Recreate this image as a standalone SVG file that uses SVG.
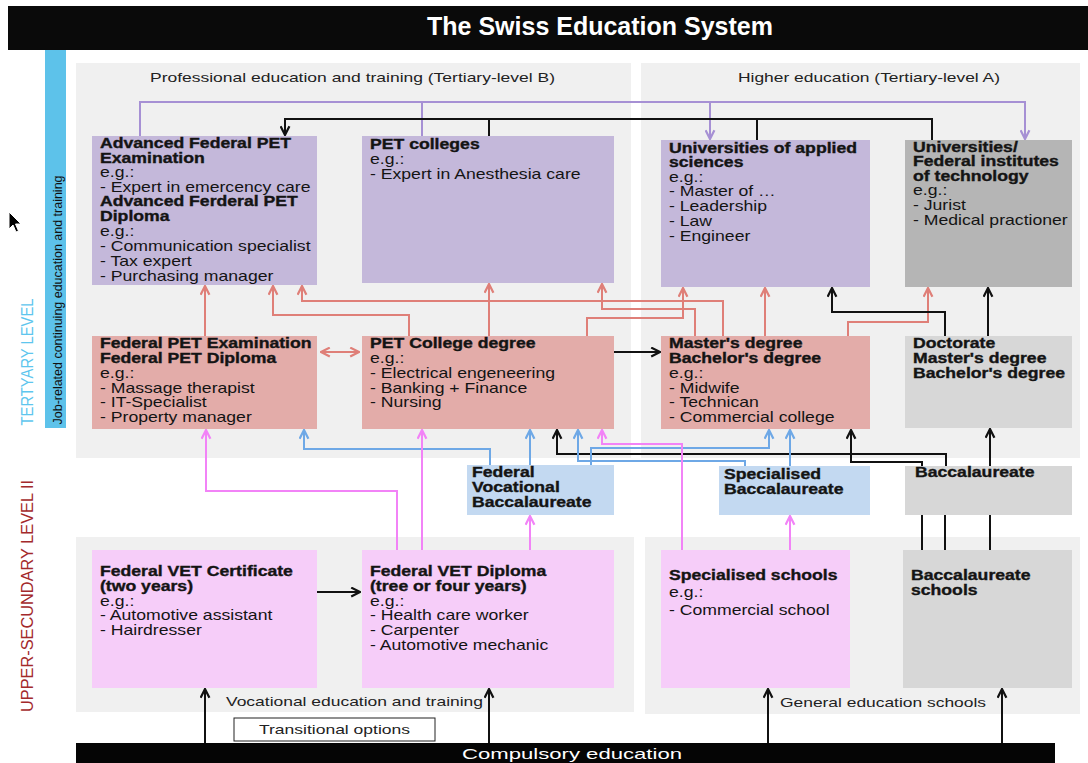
<svg xmlns="http://www.w3.org/2000/svg" width="1088" height="763" viewBox="0 0 1088 763">
<style>
.t{font-family:"Liberation Sans",Arial,sans-serif;font-size:14px;fill:#141414}
.b{font-weight:bold;stroke:#141414;stroke-width:0.35}
.lbl{font-family:"Liberation Sans",Arial,sans-serif;font-size:13px;fill:#222}
.panel{fill:#f0f0f0}
.pu{fill:#c4b8da}.gd{fill:#b5b5b5}.sa{fill:#e3aca9}.gl{fill:#d7d7d7}.bl{fill:#c3d9f1}.pk{fill:#f6cdf9}
.c{fill:none;stroke-width:2}
.cpu{stroke:#a690d4}.csa{stroke:#df7f78}.cbl{stroke:#6ea8e6}.cpk{stroke:#f283f7}.cbk{stroke:#111}
</style>
<defs>
<marker id="mpu" viewBox="0 0 10 10" refX="9" refY="5" markerWidth="11" markerHeight="11" markerUnits="userSpaceOnUse" orient="auto"><path d="M1,1 L9,5 L1,9" fill="none" stroke="#a690d4" stroke-width="2"/></marker>
<marker id="msa" viewBox="0 0 10 10" refX="9" refY="5" markerWidth="11" markerHeight="11" markerUnits="userSpaceOnUse" orient="auto-start-reverse"><path d="M1,1 L9,5 L1,9" fill="none" stroke="#df7f78" stroke-width="2"/></marker>
<marker id="mbl" viewBox="0 0 10 10" refX="9" refY="5" markerWidth="11" markerHeight="11" markerUnits="userSpaceOnUse" orient="auto"><path d="M1,1 L9,5 L1,9" fill="none" stroke="#6ea8e6" stroke-width="2"/></marker>
<marker id="mpk" viewBox="0 0 10 10" refX="9" refY="5" markerWidth="11" markerHeight="11" markerUnits="userSpaceOnUse" orient="auto"><path d="M1,1 L9,5 L1,9" fill="none" stroke="#f283f7" stroke-width="2"/></marker>
<marker id="mbk" viewBox="0 0 10 10" refX="9" refY="5" markerWidth="11" markerHeight="11" markerUnits="userSpaceOnUse" orient="auto"><path d="M1,1 L9,5 L1,9" fill="none" stroke="#111" stroke-width="2"/></marker>
</defs>
<rect width="1088" height="763" fill="#fff"/>
<!-- title -->
<g id="title">
<rect x="8" y="6" width="1080" height="44" fill="#0a0a0a"/>
<text x="600" y="35" text-anchor="middle" font-family="Liberation Sans,Arial,sans-serif" font-size="25" font-weight="bold" fill="#fff">The Swiss Education System</text>
</g>
<!-- side labels -->
<g id="side">
<rect x="45" y="50" width="21" height="378" fill="#5dc2ea"/>
<text transform="translate(61.5 300) rotate(-90)" text-anchor="middle" font-family="Liberation Sans,Arial,sans-serif" font-size="12" fill="#111" textLength="249" lengthAdjust="spacingAndGlyphs">Job-related continuing education and training</text>
<text transform="translate(33 362) rotate(-90)" text-anchor="middle" font-family="Liberation Sans,Arial,sans-serif" font-size="16" fill="#5ec6ee" textLength="127" lengthAdjust="spacingAndGlyphs">TERTYARY LEVEL</text>
<text transform="translate(33 596) rotate(-90)" text-anchor="middle" font-family="Liberation Sans,Arial,sans-serif" font-size="16" fill="#a3292b" textLength="232" lengthAdjust="spacingAndGlyphs">UPPER-SECUNDARY LEVEL II</text>
<path d="M9,212 L9,229 L13,225 L16,232 L18.5,231 L15.5,224 L21,224 Z" fill="#000" stroke="#fff" stroke-width="1"/>
</g>
<!-- panels -->
<g id="panels">
<rect class="panel" x="76" y="63" width="555" height="395"/>
<rect class="panel" x="641" y="63" width="439" height="395"/>
<rect class="panel" x="76" y="537" width="558" height="175"/>
<rect class="panel" x="645" y="537" width="435" height="177"/>
<text class="lbl" x="150" y="82" textLength="405" lengthAdjust="spacingAndGlyphs">Professional education and training (Tertiary-level B)</text>
<text class="lbl" x="738" y="82" textLength="262" lengthAdjust="spacingAndGlyphs">Higher education (Tertiary-level A)</text>
<text class="lbl" x="226" y="706" textLength="257" lengthAdjust="spacingAndGlyphs">Vocational education and training</text>
<text class="lbl" x="780" y="707" textLength="206" lengthAdjust="spacingAndGlyphs">General education schools</text>
</g>
<!-- nodes -->
<g id="n1"><rect class="pu" x="92" y="136" width="225" height="149"/>
<g transform="translate(100 0) scale(1.26 1)">
<text class="t b" y="148">Advanced Federal PET</text>
<text class="t b" y="163">Examination</text>
<text class="t" y="177">e.g.:</text>
<text class="t" y="192">- Expert in emercency care</text>
<text class="t b" y="206">Advanced Ferderal PET</text>
<text class="t b" y="221">Diploma</text>
<text class="t" y="236">e.g.:</text>
<text class="t" y="251">- Communication specialist</text>
<text class="t" y="266">- Tax expert</text>
<text class="t" y="281">- Purchasing manager</text>
</g></g>
<g id="n2"><rect class="pu" x="362" y="136" width="252" height="147"/>
<g transform="translate(370 0) scale(1.26 1)">
<text class="t b" y="149">PET colleges</text>
<text class="t" y="164">e.g.:</text>
<text class="t" y="179">- Expert in Anesthesia care</text>
</g></g>
<g id="n3"><rect class="pu" x="661" y="140" width="209" height="147"/>
<g transform="translate(669 0) scale(1.26 1)">
<text class="t b" y="153">Universities of applied</text>
<text class="t b" y="167">sciences</text>
<text class="t" y="182">e.g.:</text>
<text class="t" y="196">- Master of …</text>
<text class="t" y="211">- Leadership</text>
<text class="t" y="226">- Law</text>
<text class="t" y="241">- Engineer</text>
</g></g>
<g id="n4"><rect class="gd" x="905" y="140" width="167" height="147"/>
<g transform="translate(913 0) scale(1.26 1)">
<text class="t b" y="152">Universities/</text>
<text class="t b" y="166">Federal institutes</text>
<text class="t b" y="181">of technology</text>
<text class="t" y="195">e.g.:</text>
<text class="t" y="210">- Jurist</text>
<text class="t" y="225">- Medical practioner</text>
</g></g>
<g id="n5"><rect class="sa" x="92" y="336" width="225" height="93"/>
<g transform="translate(100 0) scale(1.26 1)">
<text class="t b" y="348">Federal PET Examination</text>
<text class="t b" y="363">Federal PET Diploma</text>
<text class="t" y="378">e.g.:</text>
<text class="t" y="393">- Massage therapist</text>
<text class="t" y="407">- IT-Specialist</text>
<text class="t" y="422">- Property manager</text>
</g></g>
<g id="n6"><rect class="sa" x="362" y="336" width="252" height="93"/>
<g transform="translate(370 0) scale(1.26 1)">
<text class="t b" y="348">PET College degree</text>
<text class="t" y="363">e.g.:</text>
<text class="t" y="378">- Electrical engeneering</text>
<text class="t" y="393">- Banking + Finance</text>
<text class="t" y="407">- Nursing</text>
</g></g>
<g id="n7"><rect class="sa" x="661" y="336" width="209" height="93"/>
<g transform="translate(669 0) scale(1.26 1)">
<text class="t b" y="348">Master's degree</text>
<text class="t b" y="363">Bachelor's degree</text>
<text class="t" y="378">e.g.:</text>
<text class="t" y="393">- Midwife</text>
<text class="t" y="407">- Technican</text>
<text class="t" y="422">- Commercial college</text>
</g></g>
<g id="n8"><rect class="gl" x="905" y="336" width="167" height="92"/>
<g transform="translate(913 0) scale(1.26 1)">
<text class="t b" y="348">Doctorate</text>
<text class="t b" y="363">Master's degree</text>
<text class="t b" y="378">Bachelor's degree</text>
</g></g>
<g id="n9"><rect class="bl" x="467" y="465" width="147" height="50"/>
<g transform="translate(472 0) scale(1.26 1)">
<text class="t b" y="477">Federal</text>
<text class="t b" y="492">Vocational</text>
<text class="t b" y="507">Baccalaureate</text>
</g></g>
<g id="n10"><rect class="bl" x="719" y="466" width="151" height="49"/>
<g transform="translate(724 0) scale(1.26 1)">
<text class="t b" y="479">Specialised</text>
<text class="t b" y="494">Baccalaureate</text>
</g></g>
<g id="n11"><rect class="gl" x="905" y="466" width="167" height="49"/>
<g transform="translate(915 0) scale(1.26 1)">
<text class="t b" y="477">Baccalaureate</text>
</g></g>
<g id="n12"><rect class="pk" x="92" y="550" width="225" height="138"/>
<g transform="translate(100 0) scale(1.26 1)">
<text class="t b" y="576">Federal VET Certificate</text>
<text class="t b" y="591">(two years)</text>
<text class="t" y="606">e.g.:</text>
<text class="t" y="620">- Automotive assistant</text>
<text class="t" y="635">- Hairdresser</text>
</g></g>
<g id="n13"><rect class="pk" x="362" y="550" width="252" height="138"/>
<g transform="translate(370 0) scale(1.26 1)">
<text class="t b" y="576">Federal VET Diploma</text>
<text class="t b" y="591">(tree or four years)</text>
<text class="t" y="606">e.g.:</text>
<text class="t" y="620">- Health care worker</text>
<text class="t" y="635">- Carpenter</text>
<text class="t" y="650">- Automotive mechanic</text>
</g></g>
<g id="n14"><rect class="pk" x="661" y="550" width="189" height="138"/>
<g transform="translate(669 0) scale(1.26 1)">
<text class="t b" y="580">Specialised schools</text>
<text class="t" y="597">e.g.:</text>
<text class="t" y="615">- Commercial school</text>
</g></g>
<g id="n15"><rect class="gl" x="903" y="550" width="169" height="138"/>
<g transform="translate(911 0) scale(1.26 1)">
<text class="t b" y="580">Baccalaureate</text>
<text class="t b" y="595">schools</text>
</g></g>
<g id="n16">
<rect x="234" y="718" width="201" height="23" fill="#fff" stroke="#222" stroke-width="1"/>
<text class="lbl" x="259" y="734" textLength="151" lengthAdjust="spacingAndGlyphs">Transitional options</text>
</g>
<g id="n17">
<rect x="76" y="743" width="979" height="20" fill="#050505"/>
<text x="572" y="759" text-anchor="middle" font-family="Liberation Sans,Arial,sans-serif" font-size="15" fill="#fff" textLength="220" lengthAdjust="spacingAndGlyphs">Compulsory education</text>
</g>
<!-- connectors -->
<g id="connectors">
<path class="c cpu" d="M140,136 V102 H1025 V139" marker-end="url(#mpu)"/>
<path class="c cpu" d="M422,102 V136"/>
<path class="c cpu" d="M710,102 V139" marker-end="url(#mpu)"/>
<path class="c cbk" d="M932,140 V119 H285 V135" marker-end="url(#mbk)"/>
<path class="c cbk" d="M489,136 V119"/>
<path class="c cbk" d="M757,140 V119"/>
<path class="c csa" d="M205,336 V286" marker-end="url(#msa)"/>
<path class="c csa" d="M409,336 V315 H273 V286" marker-end="url(#msa)"/>
<path class="c csa" d="M723,336 V301 H302 V286" marker-end="url(#msa)"/>
<path class="c csa" d="M489,336 V284" marker-end="url(#msa)"/>
<path class="c csa" d="M695,336 V309 H602 V284" marker-end="url(#msa)"/>
<path class="c csa" d="M587,336 V318 H683 V288" marker-end="url(#msa)"/>
<path class="c csa" d="M765,336 V288" marker-end="url(#msa)"/>
<path class="c csa" d="M848,336 V322 H928 V288" marker-end="url(#msa)"/>
<path class="c csa" d="M321,352 H359" marker-start="url(#msa)" marker-end="url(#msa)"/>
<path class="c cbk" d="M945,336 V312 H832 V288" marker-end="url(#mbk)"/>
<path class="c cbk" d="M988,336 V288" marker-end="url(#mbk)"/>
<path class="c cbk" d="M614,352 H660" marker-end="url(#mbk)"/>
<path class="c cbk" d="M946,466 V454 H557 V430" marker-end="url(#mbk)"/>
<path class="c cbk" d="M922,466 V462 H851 V430" marker-end="url(#mbk)"/>
<path class="c cbk" d="M990,466 V429" marker-end="url(#mbk)"/>
<path class="c cbk" d="M922,515 V550 M945,515 V550 M990,515 V550"/>
<path class="c cbl" d="M490,465 V449 H304 V430" marker-end="url(#mbl)"/>
<path class="c cbl" d="M530,465 V430" marker-end="url(#mbl)"/>
<path class="c cbl" d="M745,466 V461 H578 V430" marker-end="url(#mbl)"/>
<path class="c cbl" d="M591,465 V448 H769 V430" marker-end="url(#mbl)"/>
<path class="c cbl" d="M790,466 V430" marker-end="url(#mbl)"/>
<path class="c cpk" d="M397,550 V491 H206 V430" marker-end="url(#mpk)"/>
<path class="c cpk" d="M422,550 V430" marker-end="url(#mpk)"/>
<path class="c cpk" d="M530,550 V516" marker-end="url(#mpk)"/>
<path class="c cpk" d="M682,550 V444 H602 V430" marker-end="url(#mpk)"/>
<path class="c cpk" d="M790,550 V516" marker-end="url(#mpk)"/>
<path class="c cbk" d="M317,592 H360" marker-end="url(#mbk)"/>
<path class="c cbk" d="M205,743 V689" marker-end="url(#mbk)"/>
<path class="c cbk" d="M489,743 V689" marker-end="url(#mbk)"/>
<path class="c cbk" d="M768,743 V689" marker-end="url(#mbk)"/>
<path class="c cbk" d="M1002,743 V689" marker-end="url(#mbk)"/>
</g>
</svg>
